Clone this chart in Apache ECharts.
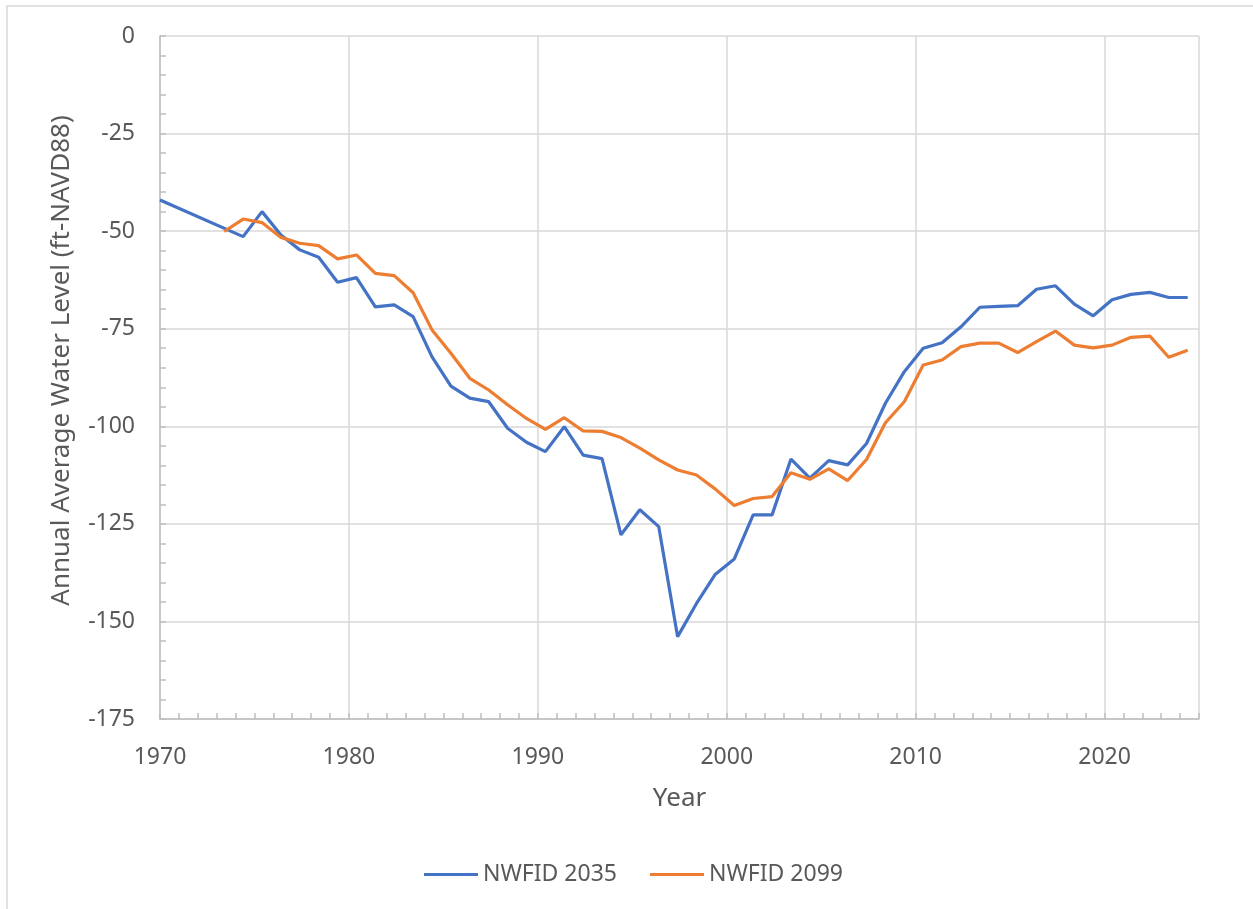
<!DOCTYPE html>
<html>
<head>
<meta charset="utf-8">
<title>NWFID water level</title>
<script src="https://cdn.jsdelivr.net/npm/echarts@6/dist/echarts.min.js"></script>
<style>
  html, body { margin: 0; padding: 0; background: #fff; }
  #chart { width: 1253px; height: 909px; }
</style>
</head>
<body>
<div id="chart"></div>
<script>
// annual average water level, x is decimal year of the annual point
const years2035 = [1970.0, 1974.4, 1975.4, 1976.4, 1977.4, 1978.4, 1979.4, 1980.4, 1981.4, 1982.4,
  1983.4, 1984.4, 1985.4, 1986.4, 1987.4, 1988.4, 1989.4, 1990.4, 1991.4, 1992.4,
  1993.4, 1994.4, 1995.4, 1996.4, 1997.4, 1998.4, 1999.4, 2000.4, 2001.4, 2002.4,
  2003.4, 2004.4, 2005.4, 2006.4, 2007.4, 2008.4, 2009.4, 2010.4, 2011.4, 2012.4,
  2013.4, 2014.4, 2015.4, 2016.4, 2017.4, 2018.4, 2019.4, 2020.4, 2021.4, 2022.4,
  2023.4, 2024.4]
const level2035 = [-42.0, -51.4, -45.0, -51.0, -54.8, -56.7, -63.1, -61.9, -69.4, -68.9,
  -71.9, -82.2, -89.7, -92.8, -93.7, -100.5, -104.1, -106.5, -100.1, -107.4,
  -108.3, -127.8, -121.4, -125.7, -153.9, -145.4, -137.9, -134.0, -122.7, -122.7,
  -108.4, -113.3, -108.8, -109.9, -104.4, -94.1, -86.0, -80.0, -78.6, -74.5,
  -69.5, -69.3, -69.1, -64.9, -64.0, -68.7, -71.7, -67.6, -66.2, -65.7,
  -67.0, -67.0]

const years2099 = [1973.4, 1974.4, 1975.4, 1976.4, 1977.4, 1978.4, 1979.4, 1980.4, 1981.4, 1982.4,
  1983.4, 1984.4, 1985.4, 1986.4, 1987.4, 1988.4, 1989.4, 1990.4, 1991.4, 1992.4,
  1993.4, 1994.4, 1995.4, 1996.4, 1997.4, 1998.4, 1999.4, 2000.4, 2001.4, 2002.4,
  2003.4, 2004.4, 2005.4, 2006.4, 2007.4, 2008.4, 2009.4, 2010.4, 2011.4, 2012.4,
  2013.4, 2014.4, 2015.4, 2016.4, 2017.4, 2018.4, 2019.4, 2020.4, 2021.4, 2022.4,
  2023.4, 2024.4]
const level2099 = [-50.1, -46.9, -47.8, -51.6, -53.1, -53.7, -57.1, -56.1, -60.8, -61.4,
  -65.8, -75.3, -81.3, -87.7, -90.7, -94.5, -98.0, -100.8, -97.8, -101.2,
  -101.3, -102.9, -105.6, -108.6, -111.2, -112.5, -116.1, -120.3, -118.5, -118.0,
  -111.9, -113.6, -110.9, -113.9, -108.5, -99.1, -93.7, -84.3, -83.0, -79.6,
  -78.7, -78.7, -81.1, -78.3, -75.6, -79.2, -79.9, -79.2, -77.2, -76.9,
  -82.3, -80.5]

const seriesNames = ['NWFID 2035', 'NWFID 2099']
const xMin = 1970
const xMax = 2025
const yMin = -175
const yMax = 0

const textColor = '#595959'
const font = 'Noto Sans'

function pairs (xs, ys) {
  return xs.map((x, i) => [x, ys[i]])
}

const myChart = echarts.init(document.getElementById('chart'))

const option = {
  animation: false,
  textStyle: { fontFamily: font },
  graphic: [{
    type: 'rect',
    shape: { x: 7, y: 6, width: 1300, height: 1000 },
    style: { fill: 'none', stroke: '#d9d9d9', lineWidth: 1.5 },
    silent: true
  }],
  grid: {
    left: 160,
    right: 54,
    top: 36,
    bottom: 190
  },
  legend: {
    data: seriesNames,
    left: 424,
    top: 863,
    padding: 0,
    icon: 'rect',
    itemWidth: 54,
    itemHeight: 3,
    itemGap: 33,
    textStyle: { color: textColor, fontSize: 23, fontFamily: font }
  },
  xAxis: [
    {
      // yearly ticks + labels every 10 years
      type: 'value',
      min: xMin,
      max: xMax,
      interval: 1,
      name: 'Year',
      nameLocation: 'middle',
      nameGap: 67,
      nameTextStyle: { color: textColor, fontSize: 26, fontFamily: font },
      axisLine: { onZero: false, lineStyle: { color: '#bfbfbf', width: 1.5 } },
      axisTick: { show: true, inside: true, length: 6, lineStyle: { color: '#bfbfbf', width: 1.5 } },
      axisLabel: {
        margin: 27,
        color: textColor,
        fontSize: 23,
        fontFamily: font,
        formatter: function (v) {
          return v % 10 === 0 && v < xMax ? String(v) : ''
        }
      },
      splitLine: { show: false }
    },
    {
      // only gridlines every 10 years
      type: 'value',
      min: xMin,
      max: xMax,
      interval: 10,
      position: 'bottom',
      axisLine: { show: false, onZero: false },
      axisTick: { show: false },
      axisLabel: { show: false },
      splitLine: { show: true, lineStyle: { color: '#d9d9d9', width: 1.5 } }
    }
  ],
  yAxis: {
    type: 'value',
    min: yMin,
    max: yMax,
    interval: 25,
    name: 'Annual Average Water Level (ft-NAVD88)',
    nameLocation: 'middle',
    nameGap: 85,
    nameTextStyle: { color: textColor, fontSize: 26, fontFamily: font, padding: [0, 0, 0, 34] },
    axisLine: { show: true, onZero: false, lineStyle: { color: '#bfbfbf', width: 1.5 } },
    axisTick: { show: true, inside: true, length: 6, lineStyle: { color: '#bfbfbf', width: 1.5 } },
    minorTick: { show: true, splitNumber: 5, length: 6, lineStyle: { color: '#bfbfbf', width: 1.5 } },
    axisLabel: { margin: 25, color: textColor, fontSize: 23, fontFamily: font },
    splitLine: { show: true, lineStyle: { color: '#d9d9d9', width: 1.5 } }
  },
  series: [
    {
      name: seriesNames[0],
      type: 'line',
      xAxisIndex: 0,
      data: pairs(years2035, level2035),
      symbol: 'none',
      itemStyle: { color: '#4472c4' },
      lineStyle: { color: '#4472c4', width: 3.2 }
    },
    {
      name: seriesNames[1],
      type: 'line',
      xAxisIndex: 0,
      data: pairs(years2099, level2099),
      symbol: 'none',
      itemStyle: { color: '#ed7d31' },
      lineStyle: { color: '#ed7d31', width: 3.2 }
    }
  ]
}

myChart.setOption(option)
</script>
</body>
</html>
